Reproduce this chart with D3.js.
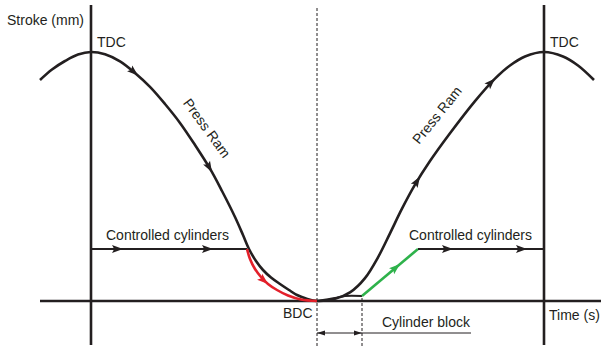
<!DOCTYPE html>
<html>
<head>
<meta charset="utf-8">
<script src="https://cdn.jsdelivr.net/npm/d3@7"></script>
<style>
  html, body { margin: 0; padding: 0; background: #fff; }
  svg { display: block; }
  text { font-family: "Liberation Sans", Arial, sans-serif; font-size: 14px; fill: #231f20; }
</style>
</head>
<body>
<svg id="chart" width="601" height="346"></svg>
<script>
// Time in ms from the first TDC, stroke in mm above BDC (TDC = 249 mm)
const ramTime   = [-51, -39, -26, -13, 0, 14, 29, 44, 59, 74, 89, 104, 119, 131, 144, 152, 158, 165, 172, 180, 189, 198, 206, 215, 226,
                   244, 259, 274, 287, 299, 311, 324, 339, 359, 384, 404, 419, 434, 453, 472, 487, 503];
const ramStroke = [221, 231.5, 240, 246.5, 249, 246.7, 239.6, 228, 214.1, 197, 178.1, 156, 132.3, 110, 84, 66, 52, 40, 31, 23.5, 17, 11, 6, 2.5, 0,
                   2.2, 8.6, 22.9, 43.7, 67.7, 92.3, 116.3, 139.9, 167.7, 199.9, 222.4, 235.5, 244.5, 249, 244.5, 235.5, 221];

const cylLevel = 52;          // stroke held by the controlled cylinders
const cylStartTime  = [0, 156];
const cylDownTime   = [156, 159, 164, 170, 177, 186, 197, 210, 226];
const cylDownStroke = [52, 42, 32, 24, 17, 11, 5.5, 1.5, 0];
const blockTime     = [226, 244, 254, 271];
const blockStroke   = [0, 3, 5, 5];
const cylUpTime     = [271, 327];
const cylUpStroke   = [5, 52];
const cylEndTime    = [327, 453];

const ramArrowTimes  = [47, 121, 329, 404];
const cylArrowTimes  = [32, 122, 362, 436];
const downArrowTimes = [177];
const upArrowTimes   = [309];

const bdcTime = 226, tdcTime = [0, 453], tdcStroke = 249;

const colors = { ink: "#231f20", down: "#e3202a", up: "#2eb24b" };

const svg = d3.select("#chart");
const x = d3.scaleLinear().domain([0, 453]).range([91, 544]);
const y = d3.scaleLinear().domain([0, tdcStroke]).range([301, 52]);

const line = d3.line().x(d => x(d[0])).y(d => y(d[1])).curve(d3.curveCatmullRom.alpha(0.5));
const straight = d3.line().x(d => x(d[0])).y(d => y(d[1]));
const zip = (a, b) => a.map((v, i) => [v, b[i]]);

// axes
const tMin = x.invert(40), tMax = x.invert(601);
const sTop = y.invert(5), sBot = y.invert(345);
const axes = svg.append("g").attr("stroke", colors.ink).attr("stroke-width", 2.6);
axes.append("line").attr("x1", x(tMin)).attr("x2", x(tMax)).attr("y1", y(0)).attr("y2", y(0));
tdcTime.forEach(t => axes.append("line").attr("x1", x(t)).attr("x2", x(t)).attr("y1", y(sTop)).attr("y2", y(sBot)));

// dashed markers for BDC and end of cylinder block
const blockEnd = blockTime[blockTime.length - 1];
const dash = svg.append("g").attr("stroke", colors.ink).attr("stroke-width", 1).attr("stroke-dasharray", "3,2");
dash.append("line").attr("x1", x(bdcTime)).attr("x2", x(bdcTime)).attr("y1", 8).attr("y2", 346);
dash.append("line").attr("x1", x(blockEnd)).attr("x2", x(blockEnd))
  .attr("y1", y(blockStroke[blockStroke.length - 1]) + 2).attr("y2", 346);

function arrowsOn(pathNode, times, color, size) {
  const total = pathNode.getTotalLength();
  const p0 = pathNode.getPointAtLength(0), p1 = pathNode.getPointAtLength(total);
  const dir = p1.x >= p0.x ? 1 : -1;
  times.forEach(t => {
    const tx = x(t);
    let lo = 0, hi = total;
    for (let i = 0; i < 40; i++) {
      const mid = (lo + hi) / 2;
      const px = pathNode.getPointAtLength(mid).x;
      if ((px - tx) * dir < 0) lo = mid; else hi = mid;
    }
    const L = (lo + hi) / 2;
    const a = pathNode.getPointAtLength(Math.max(0, L - 3));
    const b = pathNode.getPointAtLength(Math.min(total, L + 1));
    const ang = Math.atan2(b.y - a.y, b.x - a.x) * 180 / Math.PI;
    const tip = pathNode.getPointAtLength(L);
    svg.append("path")
      .attr("d", `M0,0 L${-size},${-size * 0.36} L${-size * 0.8},0 L${-size},${size * 0.36} Z`)
      .attr("fill", color)
      .attr("transform", `translate(${tip.x},${tip.y}) rotate(${ang})`);
  });
}

// press ram
const ram = svg.append("path").datum(zip(ramTime, ramStroke))
  .attr("d", line).attr("fill", "none").attr("stroke", colors.ink).attr("stroke-width", 2.6);
arrowsOn(ram.node(), ramArrowTimes, colors.ink, 11);

// controlled cylinders
const cylA = svg.append("path").datum(cylStartTime.map(t => [t, cylLevel]))
  .attr("d", straight).attr("fill", "none").attr("stroke", colors.ink).attr("stroke-width", 2.2);
arrowsOn(cylA.node(), cylArrowTimes.slice(0, 2), colors.ink, 11);

const cylDown = svg.append("path").datum(zip(cylDownTime, cylDownStroke))
  .attr("d", line).attr("fill", "none").attr("stroke", colors.down).attr("stroke-width", 2.6);
arrowsOn(cylDown.node(), downArrowTimes, colors.down, 11);

svg.append("path").datum(zip(blockTime, blockStroke))
  .attr("d", line).attr("fill", "none").attr("stroke", colors.ink).attr("stroke-width", 2);

const cylUp = svg.append("path").datum(zip(cylUpTime, cylUpStroke))
  .attr("d", straight).attr("fill", "none").attr("stroke", colors.up).attr("stroke-width", 2.6);
arrowsOn(cylUp.node(), upArrowTimes, colors.up, 11);

const cylB = svg.append("path").datum(cylEndTime.map(t => [t, cylLevel]))
  .attr("d", straight).attr("fill", "none").attr("stroke", colors.ink).attr("stroke-width", 2.2);
arrowsOn(cylB.node(), cylArrowTimes.slice(2), colors.ink, 11);

// cylinder block dimension
const dimY = 333;
const bx0 = x(blockTime[0]), bx1 = x(blockEnd);
svg.append("line").attr("x1", bx0).attr("x2", 471).attr("y1", dimY).attr("y2", dimY)
  .attr("stroke", colors.ink).attr("stroke-width", 1);
[[bx0, 180], [bx1, 0]].forEach(([px, rot]) => {
  svg.append("path").attr("d", "M0,0 L-8,-2.6 L-8,2.6 Z").attr("fill", colors.ink)
    .attr("transform", `translate(${px},${dimY}) rotate(${rot})`);
});

// labels
const labels = [
  ["Stroke (mm)", 7, 25],
  ["TDC", 97, 47],
  ["TDC", 550, 47],
  ["BDC", 283, 318],
  ["Time (s)", 549, 320],
  ["Controlled cylinders", 106, 240],
  ["Controlled cylinders", 409, 240],
  ["Cylinder block", 382, 327]
];
svg.selectAll("text.lbl").data(labels).join("text").attr("class", "lbl")
  .attr("x", d => d[1]).attr("y", d => d[2]).text(d => d[0]);

svg.append("text").attr("transform", "translate(207,128) rotate(54)")
  .attr("text-anchor", "middle").attr("dominant-baseline", "central").text("Press Ram");
svg.append("text").attr("transform", "translate(437,115) rotate(-51)")
  .attr("text-anchor", "middle").attr("dominant-baseline", "central").text("Press Ram");
</script>
</body>
</html>
